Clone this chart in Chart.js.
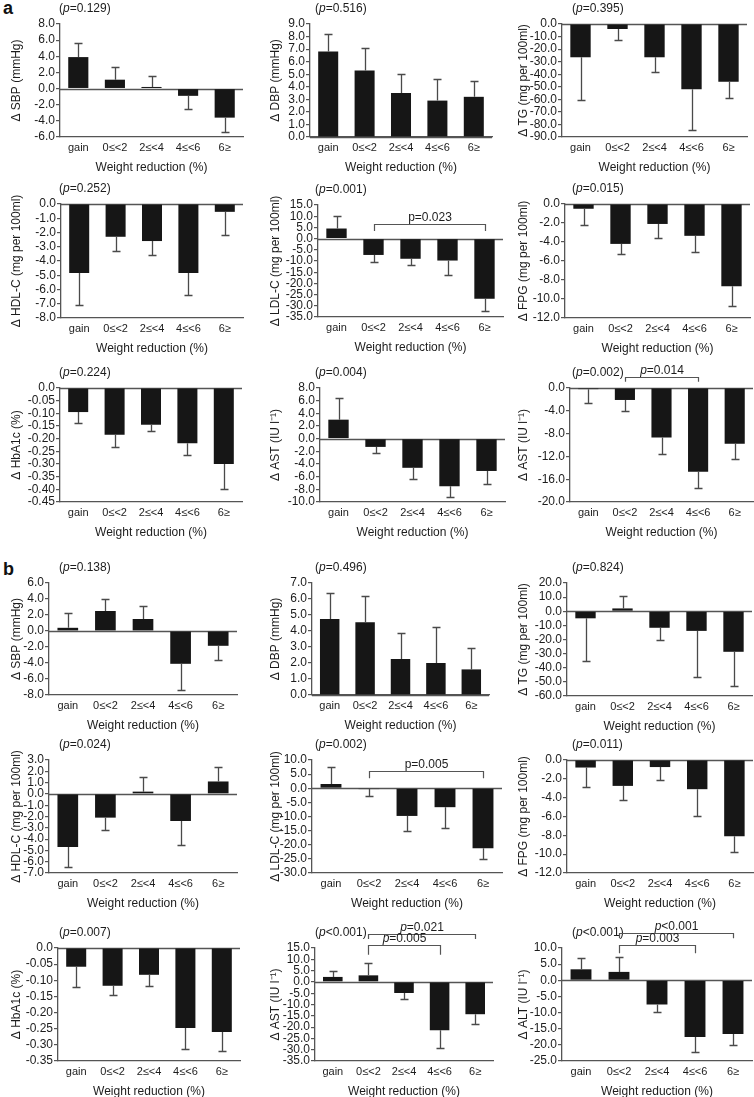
<!DOCTYPE html>
<html>
<head>
<meta charset="utf-8">
<script src="https://cdn.jsdelivr.net/npm/chart.js@4.4.1/dist/chart.umd.min.js"></script>
<style>
body { margin: 0; background: #fff; }
#fig { position: relative; width: 754px; height: 1097px; overflow: hidden; background: #fff; }
#fig canvas { position: absolute; }
.lbl { position: absolute; font: bold 18px Arial, "Liberation Sans", sans-serif; line-height: 18px; color: #111; }
</style>
</head>
<body>
<div id="fig">
  <div class="lbl" style="left:3px;top:-1px">a</div>
  <div class="lbl" style="left:3px;top:560px">b</div>
</div>
<script>
var groups = ['gain', '0≤<2', '2≤<4', '4≤<6', '6≥'];

// ---- panel a (means and one-sided SE bars) ----
var aSbp = [3.9, 1.1, 0.2, -0.9, -3.6];
var aSbpErr = [1.8, 1.6, 1.4, 1.6, 1.8];
var aDbp = [6.8, 5.3, 3.5, 2.9, 3.2];
var aDbpErr = [1.4, 1.8, 1.5, 1.7, 1.25];
var aTg = [-26.5, -4, -26.5, -52, -46];
var aTgErr = [34, 8.5, 11.5, 32.5, 13];
var aHdl = [-4.85, -2.3, -2.6, -4.85, -0.55];
var aHdlErr = [2.25, 1.0, 1.0, 1.55, 1.6];
var aLdl = [4.5, -7.3, -9, -9.8, -26.8];
var aLdlErr = [5.5, 3.2, 2.7, 6.4, 5.4];
var aFpg = [-0.5, -4.2, -2.1, -3.35, -8.65];
var aFpgErr = [1.7, 1.05, 1.5, 1.75, 2.1];
var aHba1c = [-0.095, -0.185, -0.145, -0.218, -0.3];
var aHba1cErr = [0.042, 0.046, 0.026, 0.046, 0.098];
var aAst = [3.0, -1.3, -4.6, -7.5, -5.1];
var aAstErr = [3.4, 0.9, 1.8, 1.7, 2.0];
var aAst2 = [-0.2, -2.1, -8.7, -14.7, -9.8];
var aAst2Err = [2.5, 1.9, 2.95, 2.9, 2.7];

// ---- panel b ----
var bSbp = [0.4, 2.5, 1.5, -4.1, -1.85];
var bSbpErr = [1.85, 1.55, 1.6, 3.3, 1.8];
var bDbp = [4.75, 4.55, 2.25, 2.0, 1.6];
var bDbpErr = [1.6, 1.65, 1.6, 2.25, 1.35];
var bTg = [-5, 2, -11.7, -13.9, -28.7];
var bTgErr = [30.5, 8.8, 8.7, 33, 24];
var bHdl = [-4.7, -2.1, 0.2, -2.4, 1.1];
var bHdlErr = [1.8, 1.1, 1.3, 2.1, 1.25];
var bLdl = [1.5, -0.3, -9.8, -6.7, -21.2];
var bLdlErr = [6.1, 2.4, 5.5, 7.4, 3.8];
var bFpg = [-0.8, -2.75, -0.75, -3.1, -8.1];
var bFpgErr = [2.1, 1.5, 1.35, 2.8, 1.65];
var bHba1c = [-0.058, -0.117, -0.083, -0.248, -0.26];
var bHba1cErr = [0.064, 0.03, 0.035, 0.066, 0.059];
var bAst = [2.2, 2.9, -4.9, -21.4, -14.3];
var bAstErr = [2.6, 5.6, 2.8, 7.8, 4.2];
var bAlt = [3.4, 2.6, -7.5, -17.6, -16.6];
var bAltErr = [3.5, 4.5, 2.4, 4.6, 3.3];

var FONT = 'Arial, "Liberation Sans", Helvetica, sans-serif';
var INK = '#1c1c1c';
var LINE = '#555';

// rect = [plot left, plot right, plot top, plot bottom], col = column 0..2
var panels = [
  { mean: aSbp, err: aSbpErr, min: -6, max: 8, step: 2, dec: 1, ytitle: 'Δ SBP (mmHg)', title: '(p=0.129)', rect: [60, 243, 24, 137], col: 0 },
  { mean: aDbp, err: aDbpErr, min: 0, max: 9, step: 1, dec: 1, ytitle: 'Δ DBP (mmHg)', title: '(p=0.516)', rect: [310, 492, 24, 137], col: 1 },
  { mean: aTg, err: aTgErr, min: -90, max: 0, step: 10, dec: 1, ytitle: 'Δ TG (mg per 100ml)', title: '(p=0.395)', rect: [562, 747, 24, 137], col: 2 },
  { mean: aHdl, err: aHdlErr, min: -8, max: 0, step: 1, dec: 1, ytitle: 'Δ HDL-C (mg per 100ml)', title: '(p=0.252)', rect: [61, 243, 204, 318], col: 0 },
  { mean: aLdl, err: aLdlErr, min: -35, max: 15, step: 5, dec: 1, ytitle: 'Δ LDL-C (mg per 100ml)', title: '(p=0.001)', rect: [318, 503, 205, 317], col: 1,
    brackets: [{ from: 1, to: 4, y: 6.5, drop: 3.4, text: 'p=0.023', italic: false }] },
  { mean: aFpg, err: aFpgErr, min: -12, max: 0, step: 2, dec: 1, ytitle: 'Δ FPG (mg per 100ml)', title: '(p=0.015)', rect: [565, 750, 204, 318], col: 2 },
  { mean: aHba1c, err: aHba1cErr, min: -0.45, max: 0, step: 0.05, dec: 2, ytitle: 'Δ HbA1c (%)', title: '(p=0.224)', rect: [60, 242, 388, 502], col: 0 },
  { mean: aAst, err: aAstErr, min: -10, max: 8, step: 2, dec: 1, ytitle: 'Δ AST (IU l⁻¹)', title: '(p=0.004)', rect: [320, 505, 388, 502], col: 1 },
  { mean: aAst2, err: aAst2Err, min: -20, max: 0, step: 4, dec: 1, ytitle: 'Δ AST (IU l⁻¹)', title: '(p=0.002)', rect: [570, 753, 388, 502], col: 2,
    brackets: [{ from: 1, to: 3, y: 2.0, drop: 1.1, text: 'p=0.014', italic: true }] },

  { mean: bSbp, err: bSbpErr, min: -8, max: 6, step: 2, dec: 1, ytitle: 'Δ SBP (mmHg)', title: '(p=0.138)', rect: [49, 237, 583, 695], col: 0 },
  { mean: bDbp, err: bDbpErr, min: 0, max: 7, step: 1, dec: 1, ytitle: 'Δ DBP (mmHg)', title: '(p=0.496)', rect: [312, 489, 583, 695], col: 1 },
  { mean: bTg, err: bTgErr, min: -60, max: 20, step: 10, dec: 1, ytitle: 'Δ TG (mg per 100ml)', title: '(p=0.824)', rect: [567, 752, 583, 696], col: 2 },
  { mean: bHdl, err: bHdlErr, min: -7, max: 3, step: 1, dec: 1, ytitle: 'Δ HDL-C (mg per 100ml)', title: '(p=0.024)', rect: [49, 237, 760, 873], col: 0 },
  { mean: bLdl, err: bLdlErr, min: -30, max: 10, step: 5, dec: 1, ytitle: 'Δ LDL-C (mg per 100ml)', title: '(p=0.002)', rect: [312, 502, 760, 873], col: 1,
    brackets: [{ from: 1, to: 4, y: 6.0, drop: 3.5, text: 'p=0.005', italic: false }] },
  { mean: bFpg, err: bFpgErr, min: -12, max: 0, step: 2, dec: 1, ytitle: 'Δ FPG (mg per 100ml)', title: '(p=0.011)', rect: [567, 753, 760, 873], col: 2 },
  { mean: bHba1c, err: bHba1cErr, min: -0.35, max: 0, step: 0.05, dec: 2, ytitle: 'Δ HbA1c (%)', title: '(p=0.007)', rect: [58, 240, 948, 1061], col: 0 },
  { mean: bAst, err: bAstErr, min: -35, max: 15, step: 5, dec: 1, ytitle: 'Δ AST (IU l⁻¹)', title: '(p<0.001)', rect: [315, 493, 948, 1061], col: 1,
    brackets: [{ from: 1, to: 4, y: 21.2, drop: 19.0, text: 'p=0.021', italic: true },
               { from: 1, to: 3, y: 16.4, drop: 12.0, text: 'p=0.005', italic: true }] },
  { mean: bAlt, err: bAltErr, min: -25, max: 10, step: 5, dec: 1, ytitle: 'Δ ALT (IU l⁻¹)', title: '(p<0.001)', rect: [562, 752, 948, 1061], col: 2,
    brackets: [{ from: 1, to: 4, y: 14.6, drop: 13.0, text: 'p<0.001', italic: true },
               { from: 1, to: 3, y: 10.8, drop: 8.4, text: 'p=0.003', italic: true }] }
];

var yTitleX = [16, 275, 523];
var titleX = [59, 315, 572];

// text with an italic "p"
function pText(ctx, str, x, y, align, italicP) {
  var parts = str.split('p');
  var reg = '12px ' + FONT, ita = 'italic 12px ' + FONT;
  ctx.font = reg;
  var w0 = ctx.measureText(parts[0]).width;
  var w2 = ctx.measureText(parts[1]).width;
  ctx.font = italicP ? ita : reg;
  var w1 = ctx.measureText('p').width;
  var x0 = align === 'center' ? x - (w0 + w1 + w2) / 2 : x;
  ctx.textAlign = 'left';
  ctx.font = reg; ctx.fillText(parts[0], x0, y);
  ctx.font = italicP ? ita : reg; ctx.fillText('p', x0 + w0, y);
  ctx.font = reg; ctx.fillText(parts[1], x0 + w0 + w1, y);
}

function extras(p, left) {
  return {
    id: 'extras',
    beforeDatasetsDraw: function (chart) {
      var ctx = chart.ctx, a = chart.chartArea, ys = chart.scales.y;
      var y0 = Math.round(ys.getPixelForValue(0)) + 0.5;
      ctx.save();
      ctx.strokeStyle = LINE; ctx.lineWidth = 1.3;
      ctx.beginPath(); ctx.moveTo(a.left, y0); ctx.lineTo(a.right, y0); ctx.stroke();
      ctx.restore();
    },
    afterDatasetsDraw: function (chart) {
      var ctx = chart.ctx, ys = chart.scales.y;
      var bars = chart.getDatasetMeta(0).data;
      ctx.save();
      ctx.strokeStyle = '#4a4a4a'; ctx.lineWidth = 1.3;
      p.mean.forEach(function (m, i) {
        var x = Math.round(bars[i].x) + 0.5;
        var end = m >= 0 ? m + p.err[i] : m - p.err[i];
        var yA = ys.getPixelForValue(m), yB = Math.round(ys.getPixelForValue(end)) + 0.5;
        ctx.beginPath();
        ctx.moveTo(x, yA); ctx.lineTo(x, yB);
        ctx.moveTo(x - 4, yB); ctx.lineTo(x + 4, yB);
        ctx.stroke();
      });
      ctx.restore();
    },
    afterDraw: function (chart) {
      var ctx = chart.ctx, xs = chart.scales.x, ys = chart.scales.y;
      ctx.save();
      ctx.fillStyle = INK; ctx.textBaseline = 'middle';
      pText(ctx, p.title, titleX[p.col] - left, chart.chartArea.top - 15, 'left', true);
      (p.brackets || []).forEach(function (b) {
        var x1 = Math.round(xs.getPixelForValue(b.from)) + 0.5;
        var x2 = Math.round(xs.getPixelForValue(b.to)) + 0.5;
        var yl = Math.round(ys.getPixelForValue(b.y)) + 0.5;
        var yd = ys.getPixelForValue(b.drop);
        ctx.strokeStyle = LINE; ctx.lineWidth = 1.2;
        ctx.beginPath();
        ctx.moveTo(x1, yd); ctx.lineTo(x1, yl); ctx.lineTo(x2, yl); ctx.lineTo(x2, yd);
        ctx.stroke();
        ctx.textBaseline = 'alphabetic';
        pText(ctx, b.text, (x1 + x2) / 2, yl - 4, 'center', b.italic);
      });
      ctx.restore();
    }
  };
}

var fig = document.getElementById('fig');

panels.forEach(function (p) {
  var left = yTitleX[p.col] - 11;
  var top = p.rect[2] - 34;
  var w = p.rect[1] - left + 3;
  var h = p.rect[3] - top + 42;
  var axisW = p.rect[0] - left;
  var cv = document.createElement('canvas');
  cv.width = w; cv.height = h;
  cv.style.left = left + 'px'; cv.style.top = top + 'px';
  cv.style.width = w + 'px'; cv.style.height = h + 'px';
  fig.appendChild(cv);

  new Chart(cv, {
    type: 'bar',
    data: {
      labels: groups,
      datasets: [{
        data: p.mean,
        backgroundColor: '#161616',
        borderWidth: 0,
        barPercentage: 0.55,
        categoryPercentage: 1
      }]
    },
    options: {
      responsive: false,
      animation: false,
      devicePixelRatio: 1,
      layout: { padding: { top: 34, right: 3, left: 0, bottom: 0 } },
      plugins: { legend: { display: false }, tooltip: { enabled: false } },
      scales: {
        x: {
          grid: { display: false, drawTicks: false },
          border: { display: true, color: LINE, width: 1.3 },
          ticks: { color: INK, font: { family: FONT, size: 11 }, padding: 4, maxRotation: 0, autoSkip: false },
          title: { display: true, text: 'Weight reduction (%)', color: INK, font: { family: FONT, size: 12 }, padding: { top: 0, bottom: 4 } },
          afterFit: function (s) { s.height = 42; }
        },
        y: {
          min: p.min,
          max: p.max,
          grid: { drawOnChartArea: false, drawTicks: true, tickLength: 4, color: LINE, lineWidth: 1.2 },
          border: { display: true, color: LINE, width: 1.3 },
          ticks: {
            stepSize: p.step,
            autoSkip: false,
            color: INK,
            font: { family: FONT, size: 12 },
            padding: 1,
            callback: function (v) {
              if (Math.abs(v) < 1e-9) return '0.0';
              return Number(v).toFixed(p.dec);
            }
          },
          title: { display: true, text: p.ytitle, color: INK, font: { family: FONT, size: 12 }, padding: { top: 4, bottom: 0 } },
          afterFit: function (s) { s.width = axisW; }
        }
      }
    },
    plugins: [extras(p, left)]
  });
});
</script>
</body>
</html>
